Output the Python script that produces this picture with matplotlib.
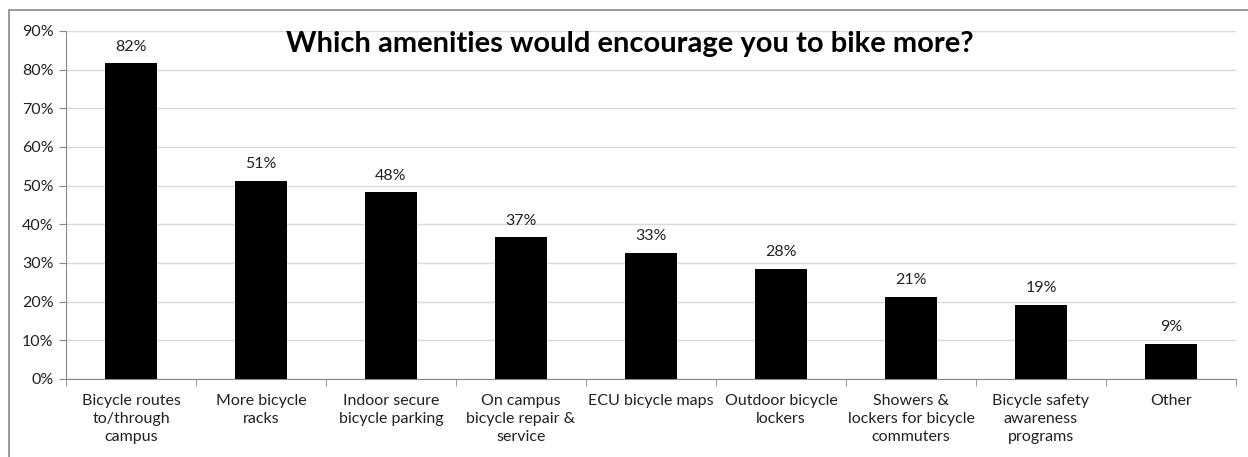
import matplotlib
matplotlib.use("Agg")
import matplotlib.pyplot as plt
from matplotlib.patches import Rectangle
from matplotlib.ticker import MultipleLocator, FuncFormatter, FixedLocator

plt.rcParams['font.family'] = ['Lato', 'DejaVu Sans']

categories = ["Bicycle routes\nto/through\ncampus", "More bicycle\nracks",
              "Indoor secure\nbicycle parking", "On campus\nbicycle repair &\nservice",
              "ECU bicycle maps", "Outdoor bicycle\nlockers",
              "Showers &\nlockers for bicycle\ncommuters", "Bicycle safety\nawareness\nprograms",
              "Other"]
values = [81.6, 51.3, 48.3, 36.6, 32.6, 28.4, 21.2, 19.1, 9.0]
labels = ["82%", "51%", "48%", "37%", "33%", "28%", "21%", "19%", "9%"]
title = "Which amenities would encourage you to bike more?"

W, H = 1248, 457
fig = plt.figure(figsize=(W/100, H/100), dpi=100)
ax = fig.add_axes([66/W, 1-379/H, (1236-66)/W, (379-31)/H])

x = list(range(len(categories)))
ax.bar(x, values, width=0.4, color='black', zorder=3)
for xi, v, lab in zip(x, values, labels):
    ax.annotate(lab, (xi, v), xytext=(0, 7), textcoords='offset points',
                ha='center', va='bottom', fontsize=11.5, color='#222222')

ax.set_xlim(-0.5, len(categories) - 0.5)
ax.set_ylim(0, 90)
ax.yaxis.set_major_locator(MultipleLocator(10))
ax.yaxis.set_major_formatter(FuncFormatter(lambda v, p: f"{int(v)}%"))
ax.grid(axis='y', color='#d9d9d9', linewidth=1, zorder=0)
ax.set_xticks(x)
ax.set_xticklabels(categories, fontsize=11.5, linespacing=1.35, color='#222222')
ax.tick_params(axis='x', length=0, pad=11)
ax.xaxis.set_minor_locator(FixedLocator([i - 0.5 for i in range(len(categories) + 1)]))
ax.tick_params(axis='x', which='minor', length=5, color='#888888')
ax.tick_params(axis='y', length=5, color='#888888', labelsize=11.5, labelcolor='#222222', pad=4)
for s in ['top', 'right']:
    ax.spines[s].set_visible(False)
ax.spines['left'].set_color('#888888')
ax.spines['bottom'].set_color('#888888')

fig.text(630/W, 1-44/H, title, ha='center', va='center', fontsize=21, fontweight='bold')

fig.patches.append(Rectangle((9/W, -0.1), 1.2, 1 - 10/H + 0.1, transform=fig.transFigure,
                             fill=False, edgecolor='#888888', linewidth=1.2))

fig.savefig("out.png", dpi=100)
